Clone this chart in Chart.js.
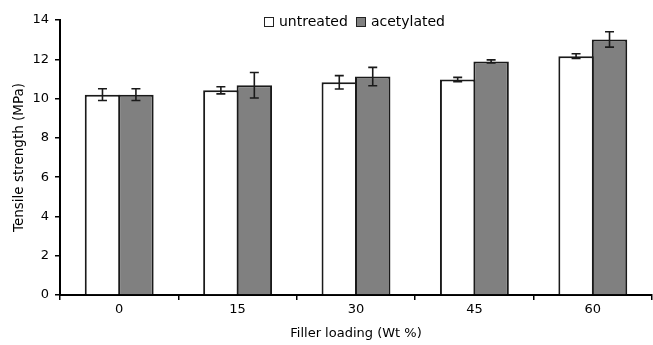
<!DOCTYPE html>
<html>
<head>
<meta charset="utf-8">
<script src="https://cdn.jsdelivr.net/npm/chart.js@4.4.1/dist/chart.umd.min.js"></script>
<style>
  html, body { margin: 0; padding: 0; background: #fff; }
  #wrap { position: relative; width: 653px; height: 345px; }
  #legend {
    position: absolute; top: 13px; left: 28px; width: 653px; text-align: center;
    font-family: "DejaVu Sans", sans-serif; font-size: 14px; color: #000;
  }
  #legend span.item { margin: 0 4px; white-space: nowrap; }
  #legend span.box {
    display: inline-block; width: 8px; height: 8px; border: 1.5px solid #222;
    margin-right: 5px; vertical-align: -1px;
  }
</style>
</head>
<body>
<div id="wrap">
  <canvas id="chart" width="653" height="345"></canvas>
  <div id="legend"></div>
</div>
<script>
const loadings = ["0", "15", "30", "45", "60"];
const untreated = [10.2, 10.42, 10.83, 10.97, 12.16];
const untreatedErr = [0.3, 0.18, 0.34, 0.11, 0.12];
const acetylated = [10.2, 10.68, 11.12, 11.89, 13.01];
const acetylatedErr = [0.3, 0.65, 0.47, 0.08, 0.39];

const FONT = "'DejaVu Sans', sans-serif";

// error bars drawn from the dataset values through the y scale
const errorBars = {
  id: "errorBars",
  afterDatasetsDraw(chart) {
    const ctx = chart.ctx;
    const yScale = chart.scales.y;
    chart.data.datasets.forEach((ds, i) => {
      const meta = chart.getDatasetMeta(i);
      meta.data.forEach((bar, j) => {
        const v = ds.data[j];
        const e = ds.errors[j];
        const top = yScale.getPixelForValue(v + e);
        const bot = yScale.getPixelForValue(v - e);
        ctx.save();
        ctx.strokeStyle = "#1a1a1a";
        ctx.lineWidth = 1.6;
        ctx.beginPath();
        ctx.moveTo(bar.x, top);
        ctx.lineTo(bar.x, bot);
        ctx.moveTo(bar.x - 4.5, top);
        ctx.lineTo(bar.x + 4.5, top);
        ctx.moveTo(bar.x - 4.5, bot);
        ctx.lineTo(bar.x + 4.5, bot);
        ctx.stroke();
        ctx.restore();
      });
    });
  },
};

const chart = new Chart(document.getElementById("chart").getContext("2d"), {
  type: "bar",
  data: {
    labels: loadings,
    datasets: [
      {
        label: "untreated",
        data: untreated,
        errors: untreatedErr,
        backgroundColor: "#ffffff",
        borderColor: "#1a1a1a",
        borderWidth: 2,
        categoryPercentage: 0.565,
        barPercentage: 1.06,
      },
      {
        label: "acetylated",
        data: acetylated,
        errors: acetylatedErr,
        backgroundColor: "#808080",
        borderColor: "#1a1a1a",
        borderWidth: 2,
        categoryPercentage: 0.565,
        barPercentage: 1.06,
      },
    ],
  },
  options: {
    responsive: false,
    animation: false,
    layout: { padding: { top: 20, right: 1, left: 0, bottom: 0 } },
    plugins: {
      legend: { display: false },
      tooltip: { enabled: false },
    },
    scales: {
      x: {
        grid: { offset: true, drawOnChartArea: false, tickLength: 5, color: "#000", lineWidth: 1.5 },
        border: { display: true, color: "#000", width: 2 },
        ticks: { color: "#000", font: { family: FONT, size: 13 }, padding: 2 },
        title: { display: true, text: "Filler loading (Wt %)", color: "#000", font: { family: FONT, size: 13 }, padding: { top: 2, bottom: 4 } },
        afterFit: (scale) => { scale.height = 50; },
      },
      y: {
        min: 0,
        max: 14,
        ticks: { stepSize: 2, color: "#000", font: { family: FONT, size: 13 }, padding: 6 },
        grid: { drawOnChartArea: false, tickLength: 5, color: "#000", lineWidth: 1.5 },
        border: { display: true, color: "#000", width: 2 },
        title: { display: true, text: "Tensile strength (MPa)", color: "#000", font: { family: FONT, size: 13.5 }, padding: { top: 11, bottom: 0 } },
        afterFit: (scale) => { scale.width = 60; },
      },
    },
  },
  plugins: [errorBars],
});

// legend built from the datasets
document.getElementById("legend").innerHTML = chart.data.datasets
  .map((ds) => `<span class="item"><span class="box" style="background:${ds.backgroundColor}"></span>${ds.label}</span>`)
  .join("");
</script>
</body>
</html>
